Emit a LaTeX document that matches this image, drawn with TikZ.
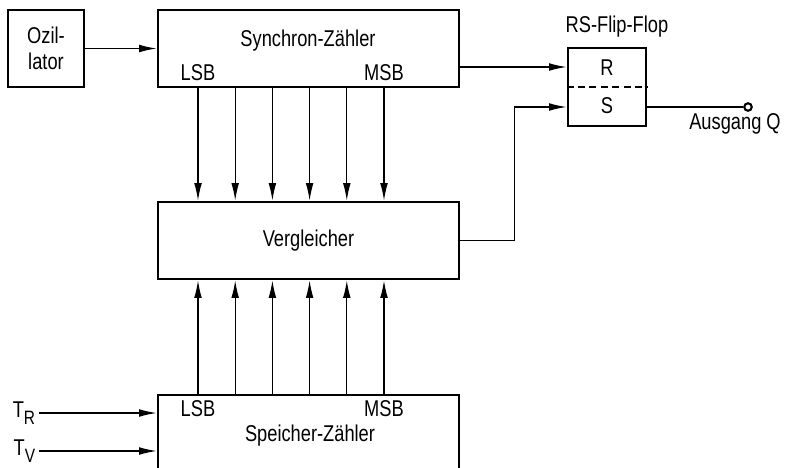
\documentclass[tikz,border=0pt]{standalone}
\usepackage{fontspec}
\setmainfont{Liberation Sans}[FakeStretch=0.8]
\usetikzlibrary{positioning,arrows.meta}
\tikzset{
  block/.style={draw, line width=1.6pt, minimum width=6.02cm, minimum height=1.54cm, inner sep=0pt},
  smallblock/.style={draw, line width=1.6pt, minimum width=1.52cm, minimum height=1.54cm, inner sep=0pt, align=center},
  txt/.style={font=\fontsize{13}{14.7}\selectfont, inner sep=0pt},
  sig/.style={line width=0.7pt, -{Latex[length=10pt,width=4.4pt]}}
}

\begin{document}
\begin{tikzpicture}[x=0.02cm, y=-0.02cm]
  \useasboundingbox (0,0) rectangle (790,467);

  % blocks
  \node[smallblock, txt] (osz) at (46,48.5) {Ozil-\\lator};
  \node[block] (sync) at (308.5,48.5) {};
  \node[block, txt] (vgl) at (308.5,240.5) {Vergleicher};
  \node[block, minimum height=2.4cm] (spz) at (308.5,455) {};
  \node[block, minimum width=1.56cm, minimum height=1.56cm] (ff) at (607,87) {};

  % texts
  \node[txt] (synctxt) at (308,41) {Synchron-Zähler};
  \node[txt] (synclsb) at (198,72.5) {LSB};
  \node[txt] (syncmsb) at (384,72.5) {MSB};
  \node[txt] (spzlsb) at (198,409) {LSB};
  \node[txt] (spzmsb) at (384,409) {MSB};
  \node[txt] (spztxt) at (310,436) {Speicher-Zähler};
  \node[txt] (fftxt) at (617,27) {RS-Flip-Flop};
  \node[txt] (fftr) at (607,68) {R};
  \node[txt] (ffts) at (607,106) {S};
  \node[txt] (outtxt) at (735,124) {Ausgang Q};
  \node[txt, anchor=east, inner sep=2pt] (tr) at (39,413) {T\raisebox{-0.6ex}{\fontsize{11}{11}\selectfont R}};
  \node[txt, anchor=east, inner sep=2pt] (tv) at (39,451) {T\raisebox{-0.6ex}{\fontsize{11}{11}\selectfont V}};

  % flip-flop inputs and output
  \draw[dashed, dash pattern=on 4pt off 2.5pt, line width=0.8pt] (ff.west) -- (ff.east);
  \coordinate[above=0.4cm of ff.west] (ffR);
  \coordinate[below=0.4cm of ff.west] (ffS);
  \coordinate (qx) at (748,0);
  \node[circle, draw, line width=1.2pt, inner sep=0pt, minimum size=0.15cm] (q) at (ffS -| qx) {};

  % connections
  \draw[sig] (osz.east) -- (osz.east -| sync.west);
  \draw[sig] (sync.east |- ffR) -- (ffR);
  \draw[sig] (vgl.east) -- ++(54,0) |- (ffS);
  \draw[line width=0.7pt] (ffS -| ff.east) -- (q);
  \draw[sig] (tr.east) -- (tr.east -| spz.west);
  \draw[sig] (tv.east) -- (tv.east -| spz.west);
  \foreach \i in {0,...,5} {
    \coordinate (b\i) at ({198+37.2*\i},0);
    \draw[sig] (sync.south -| b\i) -- (vgl.north -| b\i);
    \draw[sig] (spz.north -| b\i) -- (vgl.south -| b\i);
  }
\end{tikzpicture}
\end{document}
